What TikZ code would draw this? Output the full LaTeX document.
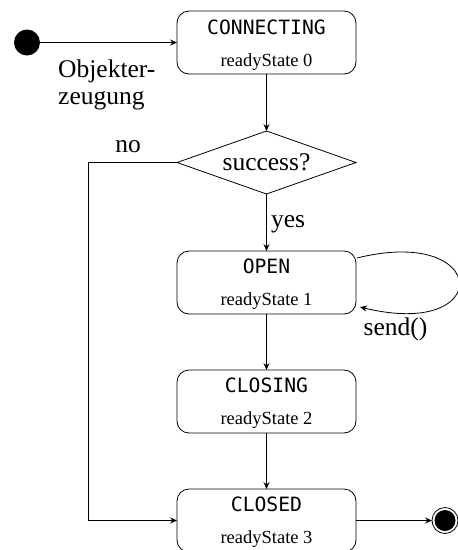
\documentclass[tikz,border=0pt]{standalone}
\usepackage{fontspec}
\setmainfont{Liberation Serif}
\newfontfamily\statemono{DejaVu Sans Mono}
\usetikzlibrary{shapes.geometric,arrows.meta,calc}
\tikzset{
  statebox/.style={draw, rectangle, rounded corners=12pt, minimum width=179pt, minimum height=63pt, inner sep=0pt, outer sep=0pt, line width=0.8pt},
  nametext/.style={anchor=base, inner sep=0pt, font=\statemono\fontsize{19.7}{22}\selectfont},
  rstext/.style={anchor=base, inner sep=0pt, font=\fontsize{18.5}{21}\selectfont},
  lbl/.style={anchor=base, inner sep=0pt, font=\fontsize{25.5}{28}\selectfont},
  decision/.style={draw, diamond, aspect=2.84, minimum width=179pt, minimum height=63pt, inner sep=0pt, outer sep=0pt, line width=0.8pt, font=\fontsize{25.5}{28}\selectfont},
  arr/.style={line width=0.8pt, -{Stealth[length=7pt,width=6pt,inset=2.5pt]}},
  initdot/.style={circle, fill=black, minimum size=26pt, inner sep=0pt, outer sep=0pt},
  finring/.style={circle, draw, line width=0.8pt, minimum size=26pt, inner sep=0pt, outer sep=0pt},
  findot/.style={circle, fill=black, minimum size=21pt, inner sep=0pt, outer sep=0pt}
}
\begin{document}
\begin{tikzpicture}[x=1pt,y=-1pt]
\useasboundingbox (0,0) rectangle (458,550);
% states
\node[statebox] (con) at (266.5,42.5) {};
\node[nametext] (conname) at ($(con.north)+(0,23)$) {CONNECTING};
\node[rstext] (conrs) at ($(con.north)+(0,55)$) {readyState 0};

\node[decision] (dia) at (266.5,162.5) {success?};

\node[statebox] (open) at (266.5,282.5) {};
\node[nametext] (openname) at ($(open.north)+(0,22)$) {OPEN};
\node[rstext] (openrs) at ($(open.north)+(0,54)$) {readyState 1};

\node[statebox] (closing) at (266.5,401.5) {};
\node[nametext] (closingname) at ($(closing.north)+(0,22)$) {CLOSING};
\node[rstext] (closingrs) at ($(closing.north)+(0,54)$) {readyState 2};

\node[statebox] (closed) at (266.5,520.5) {};
\node[nametext] (closedname) at ($(closed.north)+(0,22)$) {CLOSED};
\node[rstext] (closedrs) at ($(closed.north)+(0,54)$) {readyState 3};

% initial and final
\node[initdot] (init) at (27,42.5) {};
\node[finring] (fin) at (445,520.5) {};
\node[findot] (fininner) at (fin.center) {};

% labels
\node[lbl, anchor=base west] (obj1) at (58,77) {Objekter-};
\node[lbl, anchor=base west] (obj2) at (58,104) {zeugung};
\node[lbl] (nolbl) at (128,152) {no};
\node[lbl] (yeslbl) at (288,227) {yes};
\node[lbl] (sendlbl) at (395.5,335) {send()};

% connectors
\draw[arr] (init) -- (con.west);
\draw[arr] (con) -- (dia);
\draw[arr] (dia) -- (open);
\draw[arr] (open) -- (closing);
\draw[arr] (closing) -- (closed);
\draw[arr] (closed) -- (fin);
\coordinate (nocorner) at (88,162.5);
\draw[arr] (dia.west) -- (nocorner) |- (closed.west);
\coordinate (loopstart) at ($(open.north east)+(1,7)$);
\coordinate (loopend) at ($(open.south east)+(4,-7)$);
\draw[arr] (loopstart) .. controls (490,225) and (495,340) .. (loopend);
\end{tikzpicture}
\end{document}
